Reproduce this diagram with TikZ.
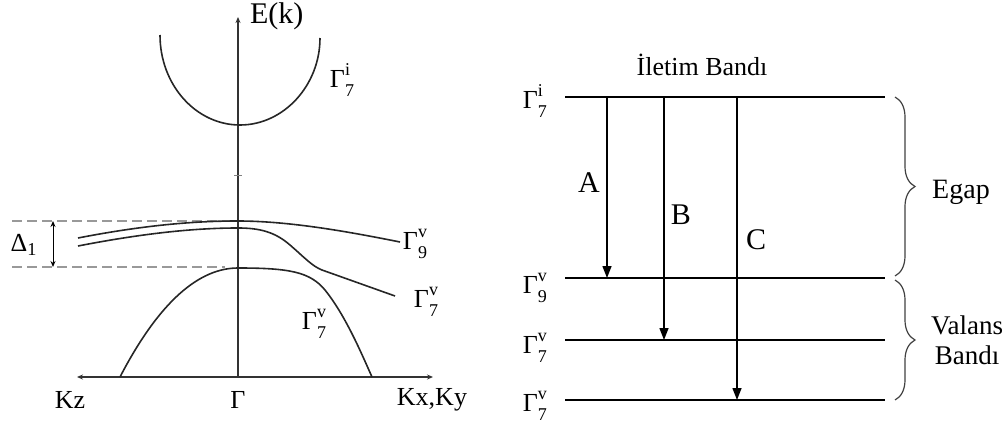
\documentclass[tikz,border=0pt]{standalone}
\usepackage{fontspec}
\setmainfont{Liberation Serif}
\usepackage{tikz}
\usetikzlibrary{arrows.meta,decorations.pathreplacing}
\newcommand{\glab}[2]{Γ\rlap{\raisebox{6pt}{\fontsize{9pt}{9pt}\selectfont #2}}\raisebox{-4.5pt}{\fontsize{9pt}{9pt}\selectfont #1}}

\begin{document}
\begin{tikzpicture}[
  x=0.5pt,y=-0.5pt,
  font=\fontsize{13pt}{14pt}\selectfont,
  band/.style={line width=0.8pt,draw=black!85},
  axis/.style={line width=0.6pt,draw=black!80,-{Stealth[length=3pt,width=2.5pt]}},
  lvl/.style={line width=0.8pt},
  arr/.style={line width=0.7pt,-{Triangle[length=6pt,width=4.5pt]}},
  gapline/.style={dashed,draw=black!40,line width=0.6pt,dash pattern=on 5pt off 2.5pt},
  brc/.style={decorate,decoration={brace,amplitude=10pt},line width=0.6pt,draw=black!75},
  big/.style={font=\fontsize{15pt}{16pt}\selectfont}
]
\useasboundingbox (0,0) rectangle (1008,423);

% left: band structure
\coordinate (orig) at (238,377);
\coordinate (etop) at (238,17);
\coordinate (kleft) at (77,377);
\coordinate (kright) at (433,377);
\draw[axis] (orig) -- (etop);
\draw[axis] (orig) -- (kleft);
\draw[axis] (orig) -- (kright);
\node[anchor=west,big] (ek) at (243,16) {E(k)};
\node (kz) at (70,400) {Kz};
\node (gam) at (238,400) {Γ};
\node (kxy) at (432,400) {Kx,Ky};
\draw[line width=0.5pt,draw=black!50] (234,175) -- (242,175);

\draw[band] (160,35) .. controls (160,85) and (196,125) .. (240,125)
  .. controls (284,125) and (320,85) .. (320,38);
\node (c7) at (342,80) {\glab{7}{i}};

\draw[gapline] (12,221) -- (238,221);
\draw[gapline] (12,267) -- (225,267);
\coordinate (d1) at (53,221);
\coordinate (d2) at (53,267);
\draw[line width=0.5pt,{Stealth[length=3pt,width=2.5pt]}-{Stealth[length=3pt,width=2.5pt]}] (d1) -- (d2);
\node (delta) at (24,245) {Δ\textsubscript{1}};

\draw[band] (78,238) .. controls (150,224) and (200,221) .. (238,221)
  .. controls (290,221) and (350,232) .. (400,242);
\draw[band] (78,246) .. controls (150,232) and (200,228) .. (238,228)
  .. controls (260,228) and (275,232) .. (290,245)
  .. controls (305,258) and (312,266) .. (322,270) -- (395,296);
\draw[band] (120,377) .. controls (160,300) and (200,268) .. (238,268)
  .. controls (290,268) and (310,272) .. (325,290)
  .. controls (345,315) and (360,350) .. (372,377);
\node (v9) at (415,244) {\glab{9}{v}};
\node (v7a) at (426,302) {\glab{7}{v}};
\node (v7b) at (314,324) {\glab{7}{v}};

% right: transitions
\node[font=\fontsize{13pt}{14pt}\selectfont] (cbt) at (702,65) {İletim Bandı};
\foreach \n/\y in {c/97,a/278,b/340,s/400}{
  \coordinate (\n0) at (565,\y);
  \coordinate (\n1) at (885,\y);
  \draw[lvl] (\n0) -- (\n1);
}
\node[anchor=east] (lc) at (554,101) {\glab{7}{i}};
\node[anchor=east] (la) at (554,288) {\glab{9}{v}};
\node[anchor=east] (lb) at (554,348) {\glab{7}{v}};
\node[anchor=east] (ls) at (554,406) {\glab{7}{v}};

\coordinate (A0) at (607,97);  \coordinate (A1) at (607,278);
\coordinate (B0) at (664,97);  \coordinate (B1) at (664,340);
\coordinate (C0) at (737,97);  \coordinate (C1) at (737,400);
\draw[arr] (A0) -- (A1);
\draw[arr] (B0) -- (B1);
\draw[arr] (C0) -- (C1);
\node[big] (ta) at (589,183) {A};
\node[big] (tb) at (681,215) {B};
\node[big] (tc) at (756,240) {C};

\draw[brc] (895,97) -- (895,276);
\draw[brc] (895,280) -- (895,400);
\node[font=\fontsize{14pt}{15pt}\selectfont] (egap) at (961,192) {Egap};
\node[align=center,font=\fontsize{13.5pt}{15pt}\selectfont] (vb) at (967,340) {Valans\\Bandı};
\end{tikzpicture}
\end{document}
